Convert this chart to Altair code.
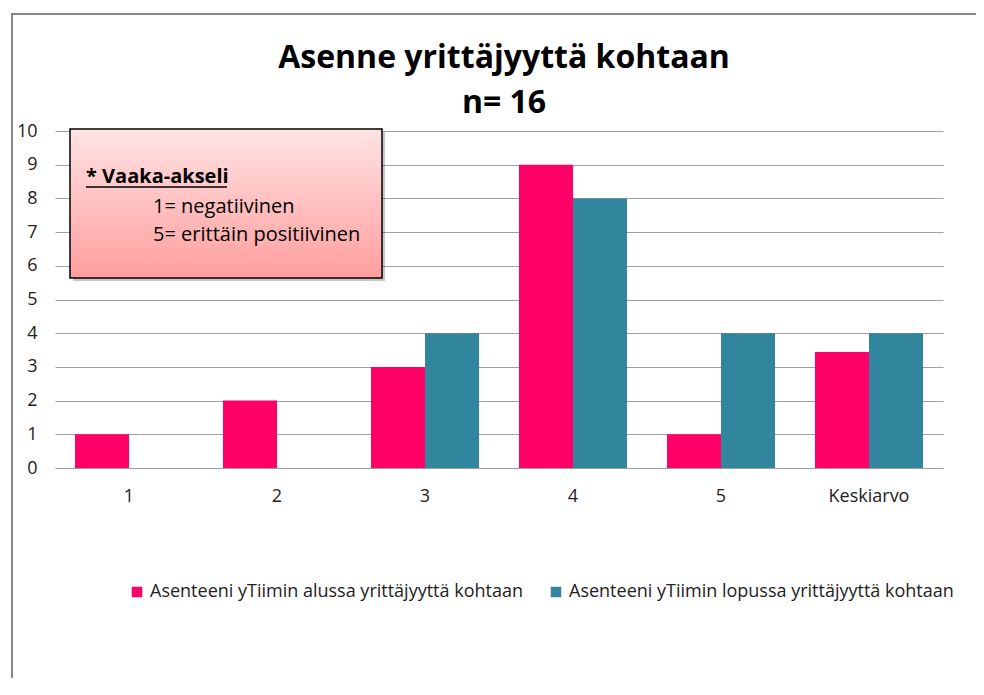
import altair as alt
import pandas as pd

categories = ["1", "2", "3", "4", "5", "Keskiarvo"]
series_names = ["Asenteeni yTiimin alussa yrittäjyyttä kohtaan",
                "Asenteeni yTiimin lopussa yrittäjyyttä kohtaan"]
alussa = [1, 2, 3, 9, 1, 3.44]
lopussa = [0, 0, 4, 8, 4, 4]
colors = ["#FF0066", "#31859C"]

title_lines = ["Asenne yrittäjyyttä kohtaan", "n= 16"]
note_head = "* Vaaka-akseli"
note_lines = ["1= negatiivinen", "5= erittäin positiivinen"]

rows = []
for c, a, b in zip(categories, alussa, lopussa):
    rows.append({"cat": c, "series": series_names[0], "value": a})
    rows.append({"cat": c, "series": series_names[1], "value": b})
df = pd.DataFrame(rows)

FONT = "Open Sans"
W, H = 888, 337
PR, PB = 33, 210

bars = alt.Chart(df).mark_bar().encode(
    x=alt.X("cat:N", sort=categories, title=None,
            scale=alt.Scale(paddingInner=0.27, paddingOuter=0.135),
            axis=alt.Axis(labelAngle=0, ticks=False, labelPadding=19, labelFontSize=18,
                          labelColor="#222222", labelFont=FONT, domainColor="#A0A0A0",
                          grid=False)),
    xOffset=alt.XOffset("series:N", sort=series_names),
    y=alt.Y("value:Q", title=None,
            scale=alt.Scale(domain=[0, 10], nice=False),
            axis=alt.Axis(values=list(range(0, 11)), ticks=False, domain=False,
                          labelPadding=18, labelFontSize=18, labelColor="#222222",
                          labelFont=FONT, gridColor="#A0A0A0", gridWidth=1)),
    color=alt.Color("series:N", sort=series_names,
                    scale=alt.Scale(domain=series_names, range=colors),
                    legend=alt.Legend(title=None, orient="none", legendX=73, legendY=452,
                                      direction="horizontal", symbolType="square",
                                      symbolSize=110, symbolStrokeWidth=0,
                                      labelOffset=4,
                                      labelFontSize=18, labelFont=FONT,
                                      labelColor="#222222", columnPadding=24,
                                      labelLimit=700)),
)

# Outer frame (top and left edges; the rest runs off the page)
frame_top = alt.Chart(pd.DataFrame({"a": [0]})).mark_rule(
    color="#888888", strokeWidth=2
).encode(x=alt.value(-43), x2=alt.value(W + PR), y=alt.value(-117))
frame_left = alt.Chart(pd.DataFrame({"a": [0]})).mark_rule(
    color="#888888", strokeWidth=2
).encode(x=alt.value(-43), y=alt.value(-118), y2=alt.value(H + PB))

# Title
title1 = alt.Chart(pd.DataFrame({"t": [title_lines[0]]})).mark_text(
    font=FONT, fontSize=32, fontWeight="bold", color="#000000", align="center", baseline="alphabetic"
).encode(text="t:N", x=alt.value(449), y=alt.value(-63))
title2 = alt.Chart(pd.DataFrame({"t": [title_lines[1]]})).mark_text(
    font=FONT, fontSize=32, fontWeight="bold", color="#000000", align="center", baseline="alphabetic"
).encode(text="t:N", x=alt.value(449), y=alt.value(-18))

# Note box
shadow = alt.Chart(pd.DataFrame({"a": [0]})).mark_rect(
    fill="#000000", opacity=0.22
).encode(x=alt.value(18), x2=alt.value(330), y=alt.value(1), y2=alt.value(150))
box = alt.Chart(pd.DataFrame({"a": [0]})).mark_rect(
    color=alt.LinearGradient(gradient="linear", x1=0, x2=0, y1=0, y2=1,
                             stops=[alt.GradientStop(color="#FFE3E3", offset=0),
                                    alt.GradientStop(color="#FF9E9E", offset=1)]),
    stroke="#000000", strokeWidth=1.5
).encode(x=alt.value(15), x2=alt.value(327), y=alt.value(-2), y2=alt.value(147))
head = alt.Chart(pd.DataFrame({"t": [note_head]})).mark_text(
    font=FONT, fontSize=20, fontWeight="bold", color="#000000", align="left", baseline="alphabetic"
).encode(text="t:N", x=alt.value(31), y=alt.value(52))
underline = alt.Chart(pd.DataFrame({"a": [0]})).mark_rule(
    color="#000000", strokeWidth=1.5
).encode(x=alt.value(31), x2=alt.value(172), y=alt.value(56))
line1 = alt.Chart(pd.DataFrame({"t": [note_lines[0]]})).mark_text(
    font=FONT, fontSize=20, color="#000000", align="left", baseline="alphabetic"
).encode(text="t:N", x=alt.value(98), y=alt.value(82))
line2 = alt.Chart(pd.DataFrame({"t": [note_lines[1]]})).mark_text(
    font=FONT, fontSize=20, color="#000000", align="left", baseline="alphabetic"
).encode(text="t:N", x=alt.value(98), y=alt.value(110))

chart = alt.layer(frame_top, frame_left, bars, title1, title2, shadow, box, head, underline,
                  line1, line2).properties(
    width=W, height=H,
    autosize=alt.AutoSizeParams(type="none"),
    padding={"left": 47, "top": 123, "right": PR, "bottom": PB},
    background="white",
).configure_view(stroke=None)

chart.save("out.html", embed_options={"renderer": "svg", "actions": False})
